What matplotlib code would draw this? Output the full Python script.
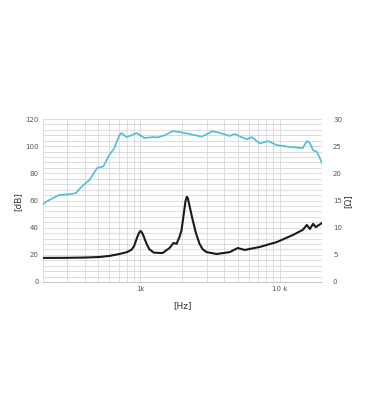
import matplotlib
matplotlib.use("Agg")
import matplotlib.pyplot as plt
from matplotlib.ticker import FixedLocator, NullFormatter

spl_freq = [200, 221, 261, 319, 345, 377, 430, 490, 541, 598, 650, 706, 730, 793, 861, 936,
            1000, 1069, 1220, 1325, 1488, 1700, 1907, 2250, 2748, 3298, 3800, 4368, 4740,
            5786, 6284, 7186, 8210, 9500, 11800, 14600, 15600, 16400, 17300, 18500, 20000]
spl_db = [57.4, 60.3, 64.0, 64.8, 65.5, 70.0, 75.0, 84.0, 85.0, 93.5, 98.6, 108.0, 109.7,
          106.7, 108.0, 109.7, 108.0, 106.0, 106.7, 106.5, 108.0, 111.0, 110.4, 109.0, 107.0,
          111.0, 109.5, 107.5, 109.0, 105.0, 106.7, 102.0, 103.8, 100.8, 99.4, 98.6, 103.8,
          102.3, 97.0, 95.7, 87.6]

imp_freq = [200, 300, 400, 507, 600, 706, 800, 861, 900, 950, 980, 1000, 1020, 1045, 1100,
            1160, 1250, 1440, 1617, 1727, 1815, 1900, 1970, 2020, 2070, 2110, 2150, 2190,
            2250, 2366, 2500, 2656, 2800, 2985, 3520, 4368, 4985, 5600, 7186, 9500, 12400,
            14600, 15600, 16400, 17300, 18100, 20000]
imp_ohm = [4.43, 4.45, 4.5, 4.6, 4.8, 5.15, 5.5, 5.9, 6.6, 8.3, 9.1, 9.4, 9.2, 8.7, 7.2,
           6.0, 5.4, 5.33, 6.25, 7.2, 7.0, 8.2, 9.5, 11.5, 13.5, 15.0, 15.7, 15.4,
           14.0, 11.5, 9.0, 7.0, 6.0, 5.5, 5.15, 5.5, 6.25, 5.9, 6.45, 7.35, 8.65,
           9.6, 10.5, 9.75, 10.7, 10.1, 10.85]

db_ticks = [0, 20, 40, 60, 80, 100, 120]
ohm_ticks = [0, 5, 10, 15, 20, 25, 30]
x_ticks = [1000, 10000]
x_labels = ["1k", "10 k"]

fig = plt.figure(figsize=(3.67, 4.2), dpi=100)
ax = fig.add_axes([0.117, 0.3286, 0.76, 0.388])
ax.set_xscale("log")
ax.set_xlim(200, 20000)
ax.set_ylim(0, 120)

minor_x = [f * d for d in (100, 1000, 10000) for f in range(2, 10)]
minor_x = [v for v in minor_x if 200 <= v <= 20000]
ax.xaxis.set_major_locator(FixedLocator(x_ticks))
ax.xaxis.set_minor_locator(FixedLocator(minor_x))
ax.xaxis.set_minor_formatter(NullFormatter())
ax.set_xticklabels(x_labels)
ax.set_yticks(db_ticks)
ax.yaxis.set_minor_locator(FixedLocator([v for v in range(0, 121, 4)]))

ax.grid(True, which="both", color="#d8d8d8", linewidth=0.6)
ax.set_axisbelow(True)
ax.tick_params(which="both", length=0, labelsize=5, colors="#555555", pad=3)
for s in ax.spines.values():
    s.set_visible(False)
ax.spines["bottom"].set_visible(True)
ax.spines["bottom"].set_color("#bbbbbb")
ax.spines["bottom"].set_linewidth(0.6)

ax.plot(spl_freq, spl_db, color="#4bbfd6", linewidth=1.2)

ax2 = ax.twinx()
ax2.set_ylim(0, 30)
ax2.set_yticks(ohm_ticks)
ax2.tick_params(length=0, labelsize=5, colors="#555555", pad=8)
for s in ax2.spines.values():
    s.set_visible(False)
ax2.plot(imp_freq, imp_ohm, color="#1a1a1a", linewidth=1.5)

fig.text(0.05, 0.52, "[dB]", rotation=90, ha="center", va="center", fontsize=6.5, color="#333333")
fig.text(0.948, 0.52, "[Ω]", rotation=90, ha="center", va="center", fontsize=6.5, color="#333333")
fig.text(0.497, 0.272, "[Hz]", ha="center", va="center", fontsize=6.5, color="#333333")

fig.savefig("out.png", dpi=100)
